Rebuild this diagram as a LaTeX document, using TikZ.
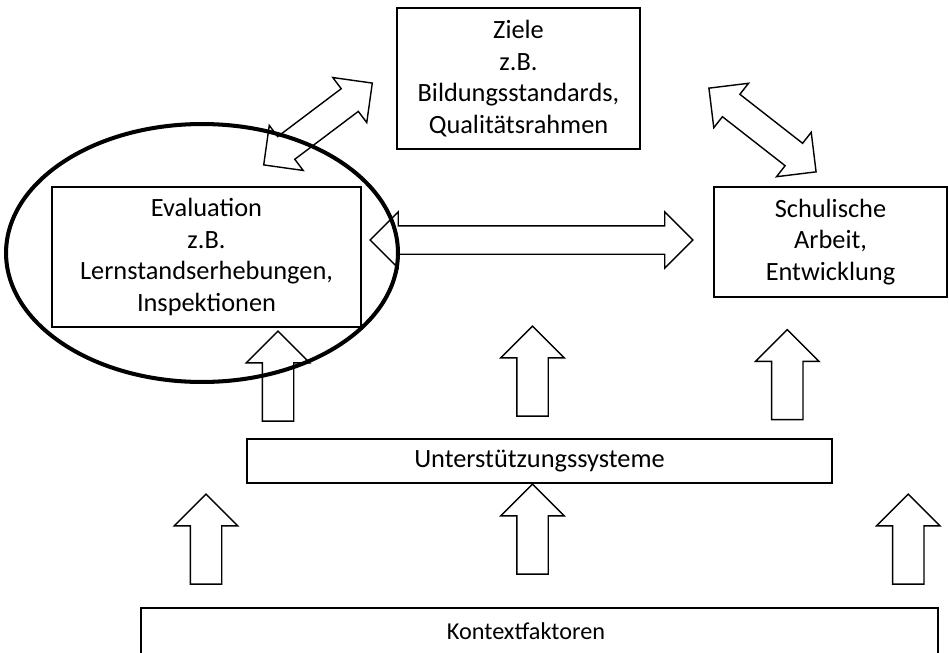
\documentclass[tikz,border=0pt]{standalone}
\usepackage{fontspec}
\setmainfont{Carlito}
\usetikzlibrary{shapes.arrows,shapes.geometric}

\begin{document}
\begin{tikzpicture}[x=0.02cm,y=-0.02cm,
  font=\fontsize{15}{18}\selectfont,
  box/.style={draw,line width=1pt,align=center,inner sep=0pt},
  uparrow/.style={single arrow,draw,fill=white,line width=0.8pt,
    inner xsep=0pt,inner ysep=0.3cm,minimum width=1.24cm,
    single arrow head extend=0.32cm,minimum height=1.8cm,rotate=90},
  twoway/.style={double arrow,draw,fill=white,line width=0.8pt,
    inner xsep=0pt,inner ysep=0.27cm,minimum width=1.1cm,
    double arrow head extend=0.28cm}]
\useasboundingbox (0,0) rectangle (949,652);
% boxes
\node[box,minimum width=4.86cm,minimum height=2.82cm] (ziele) at (518.5,78.5)
  {Ziele\\z.B.\\Bildungsstandards,\\Qualitätsrahmen};
\node[box,minimum width=6.18cm,minimum height=2.8cm] (eval) at (206.5,257)
  {Evaluation\\z.B.\\Lernstandserhebungen,\\Inspektionen};
\node[box,minimum width=4.66cm,minimum height=2.2cm] (schul) at (830.5,242)
  {Schulische\\Arbeit,\\Entwicklung};
\node[box,minimum width=11.7cm,minimum height=0.88cm] (unter) at (539.5,461)
  {Unterstützungssysteme};
\node[box,minimum width=15.94cm,minimum height=0.92cm] (kontext) at (539.5,631) {};
\node[font=\fontsize{13.8}{16}\selectfont] (kontexttext) at (526,631) {Kontextfaktoren};
% arrows up
\node[uparrow] (up1) at (206,547) {};
\node[uparrow] (up2) at (532.5,537) {};
\node[uparrow] (up3) at (908.3,547) {};
\node[uparrow] (upA) at (278,384) {};
\node[uparrow] (upB) at (532.5,379) {};
\node[uparrow] (upC) at (787.3,382.5) {};
% two-way arrows
\node[twoway,minimum height=6.46cm] (evalschul) at (531.5,240) {};
\node[twoway,minimum height=2.72cm,rotate=37] (evalziele) at (318,124) {};
\node[twoway,minimum height=2.72cm,rotate=-38] (zieleschul) at (762.5,130) {};
% ring round the evaluation
\node[ellipse,draw,line width=2.3pt,inner sep=0pt,
  minimum width=7.84cm,minimum height=5.16cm] (ring) at (202,253) {};
\end{tikzpicture}
\end{document}
